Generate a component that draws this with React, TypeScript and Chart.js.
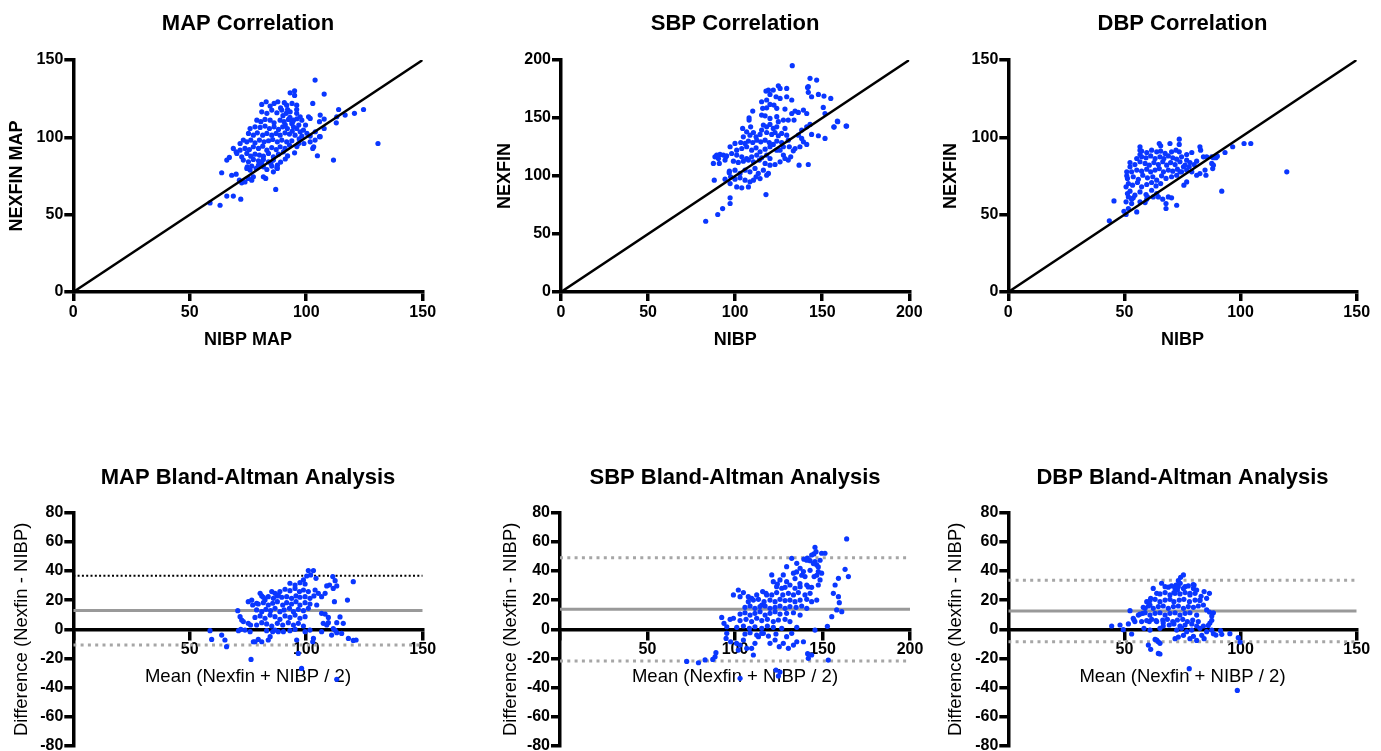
import React, { useEffect, useRef } from 'react';
import { Chart, registerables } from 'chart.js';

Chart.register(...registerables);

const FONT = "'Liberation Sans', Arial, Helvetica, sans-serif";
const BLUE = 'rgb(10,55,255)';

type P = [number, number];

// ---------- Correlation data (x = NIBP, y = NEXFIN) ----------
const mapCorrPoints: P[] = [
  [103.8,137],[107.7,128],[93.1,128.8],[95,130.1],[95,127.1],[102.8,121.9],
  [80.9,121.3],[82.8,123],[84.5,120.2],[86.2,121.9],[87.8,123],[90.6,122.4],[91.6,120.8],[93.9,121.9],[95.9,120.8],[95.9,118],
  [113.9,118],[120.7,115.5],[124.6,118],[116.7,114.4],[113.1,113.3],[106,114.4],[107.7,111.8],[105.7,110.1],[112.9,109.4],
  [101,113.3],[101.7,112.2],[98.1,111.1],[99.7,107.9],[96.8,107.9],[94.5,111.1],[93.8,109],[95.9,105.7],[97.4,103.6],[98.8,104.7],
  [130.8,96],[111.7,85.3],[104.8,88.1],[102.8,92.8],[103.8,98.2],[106,100.4],[107.7,105.7],[101.7,100.8],[101.7,97.1],
  [86.9,66.3],[71.9,60],[68.7,62],[65.9,62],[63,56.1],[58.7,57.6],[63.7,77.1],[68,75.5],[69.9,76.2],[65.9,85.3],[67,87],[68.7,92.8],
  [71.3,72.3],[72.3,70.6],[73.7,71.2],[75.2,73.4],[76.6,72.3],[77.3,74.5],
  [81.6,74.5],[82.6,73.4],[85.9,77.7],[87.6,79.9],[87.6,82],[83.1,79.2],[84.8,83.1],[80.9,83.1],[78.5,79.9],[75.9,78.8],[74.7,80.9],
  [100.3,102.6],[103.9,103.6],[105.7,100.4],[98.1,100.8],[103.2,93.9],
  [80.9,116.5],[83.1,115.5],[85.2,117.6],[87.4,115.9],[89.5,117.6],[91.4,115.5],[93.1,116.5],[95.9,115.5],[97.4,113.3],
  [78.8,111.1],[80.5,110.1],[82.3,111.6],[84.5,111.1],[86.2,109.4],[88.8,111.1],[90.5,110.1],[92.4,111.6],[94.2,110.1],
  [75.9,105.7],[78,106.8],[80.2,106.4],[82.3,107.3],[84.2,105.7],[86.2,106.8],[88.1,105.1],[89.9,106.8],[91.9,105.7],[94.5,106.8],
  [73,98.2],[75.2,102.5],[77.3,101.4],[79,102.9],[81.3,101.4],[83.1,102.5],[85.2,101.4],[87.1,102.5],[88.8,101.4],[90.9,102.9],[92.8,102.1],[95.2,101.4],
  [71.6,96],[74.5,97.1],[76.2,98.2],[78,96.5],[79.9,98.2],[81.9,97.1],[83.8,97.8],[85.6,98.6],[87.6,97.1],[89.5,98.2],[91.6,97.1],[93.8,97.8],[96.7,96],
  [69.9,90.6],[71.6,91.7],[73.7,92.8],[75.6,92.1],[77.3,93.9],[79.5,92.8],[81.3,94.3],[83.1,91.7],[85.2,93.4],[87.1,92.1],[88.8,93.9],[90.9,92.8],[92.8,95],
  [70.2,89.6],[72.3,87.4],[74.5,89.6],[76.2,87.8],[78,89.1],[79.9,88.5],[81.6,87.8],[83.8,89.6],[85.9,87.4],[88.1,89.1],[90.2,90.6],
  [73,85.3],[75.2,84.2],[77.3,85.7],[79.5,84.8],[81.6,85.7],[83.8,84.2],[85.9,85.3],
  [74.5,79.9],[76.6,81.4],[79.5,82],[81.6,80.9],[85.2,81.4],[87.4,80.5],
  [89,119],[92,118],[90,114],[93,113],[96,112],[91,108],[94,104],[97,99],[96,94],[99,96],[95,90],[92,88],[89,84],[91,86],
];

const sbpCorrPoints: P[] = [
  [132.8,195.1],[143,184.2],[146.8,182.7],[142,177],[142,172.1],[143.9,168.3],[147.8,170.3],[151,168.9],[154.9,166.9],[150.6,159.1],
  [151.6,153.9],[158.7,147.3],[156.8,142.2],[163.7,143],[151.6,132.4],[147.8,134.7],[143.9,135.8],[142,109.9],[136.7,109.3],
  [130.5,113.7],[131.9,116.5],[127.7,118],[125.8,122.3],[139.2,129.5],[141.1,127.2],[138.2,132.4],[136.3,135.2],[138.2,139.6],[141.1,142.4],[143,144.5],
  [124.8,177.8],[125.8,175.5],[121.9,174.1],[119.1,174.1],[117.7,173.2],[120,170.3],[123.5,168.3],[125.8,166.9],[129.6,175.5],[129.6,168.3],[132.5,165.5],
  [115.2,164],[118.1,165.5],[120,161.7],[122.3,161.1],[115.8,158.3],[118.1,158.8],[123.9,158.3],[128.6,157.7],[110.1,156],
  [108,150.2],[108,148.2],[108.9,142.4],[104.3,141],
  [115.2,152.5],[117.2,151.9],[120,149.6],[123.9,151.1],[124.8,146.8],[127.7,148.2],[130.5,148.2],[132.5,153.9],[134.4,156],[136.3,154.8],[139.2,156.8],[141.1,153.9],[133.8,148.2],
  [116.2,143.9],[118.1,142.4],[120,144.5],[121.9,141],[123.9,142.4],[115.2,139.6],[118.1,137.5],[121,135.8],[122.9,137.5],[124.8,134.7],[126.7,136.7],[129.6,135.2],[130.5,130.9],[128.6,141],
  [106.6,138.1],[108.5,135.2],[110.5,137.5],[112,133.8],[114.3,135.8],[104.7,133.8],[103.2,128.9],[105.7,128.1],[107.6,130.1],[110.1,128.9],[112.4,130.9],[114.7,129.5],[117.2,130.9],[119.6,128.9],[121.9,127.2],[123.9,130.1],[126.7,128.9],
  [99.9,128.1],[97.1,125.2],[100.9,122.3],[103.8,123.7],[106.6,125.2],[109.5,122.3],[112,124.3],[114.3,120.9],[117.2,123.1],[120,125.2],[123.9,122.3],[127.7,125.2],
  [91.3,118.6],[88.4,116.5],[90.4,115.1],[93.2,118],[95.1,117.4],[98,119.4],[100.9,118],[103.8,116.5],[106.6,115.1],[109.5,116.5],[112.4,118],[115.2,115.7],[118.1,118],[120,115.1],
  [87.5,110.8],[90.9,110.8],[94.2,113.7],[99,112.8],[101.8,111.7],[104.7,112.8],[107.6,113.7],[110.5,112.2],[113.9,113.7],[117.2,110.8],[120,109.3],[122.9,109.9],[125.8,112.2],
  [96.7,104.2],[99.9,105],[102.8,102.2],[105.7,105],[108.5,103.6],[111.4,106.5],[113.3,102.2],[116.2,105],[119.1,102.2],
  [88,96.4],[94.2,97.3],[97.1,93.5],[99.9,97.3],[102.8,98.4],[105.7,96.4],[108.5,95],[112,99.3],
  [100.9,90.6],[103.8,89.8],[107.6,90.6],[110.5,96.4],[114.3,97.8],[118.1,100.7],
  [117.7,84],[97.1,81.2],[97.1,76.3],[92.8,71.9],[90,66.8],[83.1,61],
  [164,143],[158.9,146.8],[156.7,142.4],[141.6,176.4],[89.4,118],[94.7,116.5],[96.6,102.7],[97.4,99.3],
  [137.2,125.2],[133.4,121.7],[131.1,125.2],[134.4,123.7],[128.6,115.1],
];

const dbpCorrPoints: P[] = [
  [73.6,98.8],[73.6,95.4],[69.6,96],[65,96],[65.6,94.5],[56.7,93.9],[56.7,91.7],[56.7,88.9],
  [73.6,90.6],[76.8,88.9],[79,90.2],[82.5,93.9],[82.8,91.7],[81.1,84.6],[84,87.4],[85.4,87.4],
  [87.6,87.4],[89.4,86.8],[93.3,90.2],[96.6,93.9],[101.5,96],[104.4,96],[91.9,65.2],
  [84.7,78.8],[82.5,76.6],[85.1,75.5],[88,79.8],[87.6,83.1],[88.3,82],
  [81.1,75.5],[79,77.7],[77.9,80.9],[75.4,80.9],[73.9,77.7],[75.6,69.1],[76.8,71.2],
  [72.5,56.1],[70.3,60.9],[68.9,61.5],[67.9,57.2],[67.9,54],[66.5,60],[64.6,61.5],
  [43.5,46],[45.5,58.9],[50.7,50.1],[51.7,54],[49.8,52.2],
  [53.1,57.2],[50.7,58.3],[51.7,61.5],[53.8,60.9],[55.3,51.8],[58.9,57.8],[59.6,60],
  [50.7,68],[51.7,70.1],[51.3,73.4],[51,77.7],[51,75.1],[52.4,80.9],
  [57.4,91.1],[59.6,90.2],[61.7,91.7],[63.9,90.6],[65.6,91.1],[67.5,89.6],[70.3,90.6],[72.2,91.7],
  [55.3,86.3],[57.4,87.4],[59.3,86.8],[61.3,88],[63.2,86.3],[65.3,87.4],[67,86.3],[68.9,88],[70.8,86.8],[72.5,85.9],[74.6,87.4],[76.8,85.2],
  [52.4,83.7],[54.5,82.4],[56.7,84.2],[58.9,83.1],[60.7,82],[62.7,83.7],[64.6,82.4],[66.5,84.2],[68.2,82],[69.9,83.7],[71.8,82.4],[73.9,84.2],[76.1,82],[78.2,83.7],[80,82.4],
  [53.1,77.7],[55.3,78.8],[57.4,78.1],[59.6,79.4],[61.3,77.7],[63.2,78.8],[65,79.8],[66.8,77.7],[68.9,78.8],[70.8,78.1],[72.8,79.4],[74.6,77.7],[76.8,78.8],
  [53.8,74.5],[56,72.9],[57.9,75.5],[59.9,73.8],[62.2,74.5],[63.9,72.3],[66,75.1],[67.9,73.4],[70.3,74.5],[72.5,75.5],
  [53.5,69.1],[55.6,70.8],[57.4,68],[59.6,69.5],[61.7,70.8],[63.6,68.6],[65.6,70.1],
  [51.3,63.7],[52.4,65.2],[54.5,62.6],[56.7,64.7],[59.3,63],[61.7,65.8],[63.9,63.7],
  [53.1,60],[56.7,58.3],[59.9,61.5],[62.4,61.5],
  [119.9,77.7],[90,87.8],[88.3,86.8],
];

// ---------- Bland-Altman data (x = mean, y = difference) ----------
const mapBAPoints: P[] = [
  [100.9,40.3],[103.1,40.3],[101.9,37.3],[104.2,35],[100.2,36.6],[98.8,33.9],
  [111.4,36.2],[112.4,33.4],[110,30.4],[108.8,29.8],[111.6,28.1],[113.1,29.8],
  [120.2,32.7],[117.7,20.1],[112.1,19],
  [108.1,24.7],[106.6,22.4],[105.2,24.7],[103.8,27],[104.5,16.7],[106.6,11],[108.1,10.5],[109.5,8.2],[107.3,4.1],
  [109.5,4.6],[108.8,3],[113.1,4.6],[115.9,4.1],[112.4,-0.7],[113.1,-2.3],[115.2,-2.8],[118.1,-6.2],[121.4,-7.3],[110.9,-3.9],[106.6,-1.6],
  [103.1,-6.2],[102.8,-8.5],[101.6,-0.5],[99.5,-1.6],[95.9,-7.3],[96.6,-16.5],[98,-26.8],[113.1,-34.3],
  [76.3,-20.6],
  [58.7,-0.9],[59.4,-6.9],[63.7,-3.9],[65.1,-7.3],[65.8,-11.9],
  [70.9,-0.9],[71.9,0],[73.7,-0.5],[75.9,-1.6],[77.3,-8.5],[78,-8.5],[79.4,-6.9],[80.9,-8.5],[83.7,-7.3],[84.5,-5],[85.6,-1.6],[88,-1.6],
  [70.6,12.8],[71.6,8.7],[72.3,6.4],[73,5.3],[75.1,4.1],[76.1,3],[75.1,19],[76.6,20.1],[77,16.7],[78.7,17.9],[80.2,24.7],[80.9,22.9],[82.3,20.1],[85.2,25.9],[86.6,24.7],[88,23.6],
  [93,31.6],[95.2,30.4],[97.3,32],[99.5,31.1],
  [88.7,25.9],[90.9,27.5],[93,26.5],[95.2,28.1],[97.1,25.9],[98.8,27],[100.9,25.9],
  [81.6,22],[83.7,22.4],[85.9,21.3],[87.6,22.9],[89.5,22],[91.6,22.4],[93.7,21.3],[95.6,22.9],[97.3,22],[99.5,22.4],[101.6,21.3],[103.3,22.9],
  [79.4,17.4],[81.6,18.3],[83.7,16.7],[85.6,17.9],[87.6,19],[89.9,16.7],[91.6,18.3],[93.7,17.4],[95.6,19],[97.3,16.7],[99.5,18.3],[101.6,17.4],
  [78.7,13.3],[80.9,12.1],[82.7,13.7],[84.7,12.8],[86.6,14.4],[88.7,12.1],[90.5,13.3],[92.8,14.4],[94.5,12.1],[96.6,13.7],[98.8,12.8],[100.9,14.4],
  [78,8.2],[80.2,9.2],[82.3,7.6],[84.5,9.8],[86.6,8.7],[88.7,6.9],[90.9,9.2],[93,8.2],[95.2,9.8],[97.3,7.6],[99.5,8.7],
  [78.7,3],[80.9,4.6],[83,3.7],[85.2,2.3],[87.6,4.1],[89.9,3],[92.3,4.6],[94.5,3],[96.6,4.1],[98.8,2.3],
  [83,-0.9],[86.6,-0.5],[90.2,-1.6],[93,-0.9],[95.2,0],
  [120.2,-7.6],[114.5,8.5],[111.6,0.5],
];

const sbpBAPoints: P[] = [
  [163.8,62],
  [145.7,56.3],[146.3,53.3],[145.1,51.7],[149.5,52.2],[151.4,52.2],[143.8,51],[141.3,48.8],[139.4,48.1],[142.9,47.1],[145.7,46.5],[146.7,44.2],
  [162.9,41.2],[164.8,36.2],[159.1,35],[157.2,30.4],[156.2,24.7],[159.1,22.4],[159.6,18.3],[161,12.1],
  [147.6,39.6],[149.5,38.5],[148.6,33.9],[147.6,30.4],[145.2,36.2],
  [132.4,48.7],[135.3,45.3],[137.2,41.9],[139.1,39.6],[140,36.2],[133.4,38.5],[129.5,43],
  [121,37.3],[121.9,32.7],[124.2,31.1],[125.7,33.9],[127.6,37.3],[129.5,32.7],[131.4,30.4],[126.7,28.2],
  [99.1,23.6],[101.9,27],[102.9,22.4],[104.8,25.2],[107.6,22.4],[109.5,21.3],[112.4,23.6],[115.8,25.9],[118.1,23.6],[115.3,16.7],
  [92.4,8.2],[93.7,4.1],[95.3,1.8],[97.2,6.9],[99.1,7.6],
  [95.3,-2.7],[94.9,-6.2],[97.5,-8.5],[100.9,-9.6],[102.9,-10.8],[101.9,-14.2],[104.8,-7.3],[106.7,-13],[109.5,-13],[111.4,-9.6],[110.5,-17.6],[113.4,-5],[115.3,-2.7],
  [79.1,-22.9],[82.9,-21],[87.3,-20.6],[88.6,-18.8],
  [123.4,-27.9],[124.8,-32],[102.9,-33.6],
  [120,-9.6],[122.9,-7.3],[125.3,-11.9],[127.6,-9.6],[130.5,-13],[133.4,-10.8],[135.3,-8.5],[139.1,-8.5],[141.9,-19.9],[143.8,-17.6],[145.7,-0.5],
  [153.3,-21.1],[155.3,8.7],[158.1,13.3],
  [123.8,29.3],[128.6,28.8],[134.3,28.2],[137.2,29.3],[141,30.4],[143.8,28.8],
  [117.7,24.7],[121,23.6],[123.8,25.2],[127.3,23.6],[130.5,24.7],[133.4,23.6],[136.2,25.2],[140,23.6],[142.9,24.7],
  [107.6,19],[110.5,20.1],[113.4,20.6],[116.6,19],[120,20.1],[122.9,19],[125.7,20.6],[128.6,19.7],[131.4,20.1],[134.3,19],[137.2,20.1],[141,20.6],[143.8,19],[146.7,20.1],
  [105.7,15.1],[108.6,16],[111.4,14.4],[114.3,15.6],[117.2,16],[120,14.4],[122.9,15.1],[125.7,16],[128.6,14.4],[131.4,15.6],[134.9,15.1],[138.1,16],[141,14.4],
  [102.9,10.5],[105.7,11.4],[108.6,9.8],[111.4,11],[114.3,12.1],[117.2,9.8],[120,11],[122.9,12.1],[125.7,10.5],[129.5,11],[133.4,11.4],[137.2,9.8],
  [102.9,6],[106.3,6.9],[109.5,5.3],[112.4,7.6],[115.3,6],[118.5,6.9],[121.9,5.3],[124.8,6.4],[128.6,6.9],[131.4,5.3],
  [101,1.4],[104.8,2.3],[108.2,0.7],[111.4,1.8],[115.3,0.7],[118.5,2.3],[121.9,1.4],[126.7,0.7],[135.3,1.4],
  [105.7,-3.2],[108.6,-2.3],[112.4,-3.9],[116.2,-2.7],[119.1,-4.6],[123.4,-3.2],[129.5,-5],[132.4,-2.7],
  [152.8,2.1],[141.5,-16.7],[125.7,-29.3],[72.4,-22],[89.1,-16],
  [141,47.4],[144.8,45.1],[147.6,42.8],[142.9,40.5],[146.7,37.1],[138.1,37.1],[135.2,39.4],[134.3,34.8],[137.1,31.4],[141.9,29.1],[148.6,47.4],
];

const dbpBAPoints: P[] = [
  [75.4,37.3],[74.2,35.7],[73.2,33.4],[72.2,30.4],[71.8,28.1],[74,31.6],[76.1,29.3],[71.3,25.2],[72.8,27],
  [80,30.4],[79.7,28.1],[78.2,24.7],[81.1,27],[84.3,25.9],[86.6,24.7],[85.4,21.3],[82.5,20.1],[84,16.7],[85.4,13.3],[88.3,11.4],[87.6,9.2],
  [66,31.6],[67.5,29.3],[62.4,28.1],[63.9,24.7],[61.3,21.3],[59.6,19],[61,16.7],[58.9,14.4],[57.9,11],[56,9.8],[53.8,7.6],[54.5,5.3],[52.4,12.8],
  [44.5,2.3],[48.1,3],[51.7,3.7],[53.1,-3.2],[57.4,5.3],[58.4,0.7],[60.7,5.3],[63.6,6],[61,-0.5],[65.3,0.7],[66.7,4.6],
  [60.3,-10.8],[61.3,-13.7],[63.9,-7.3],[64.6,-8.5],[65.3,-9.6],[63.2,-6.9],[64.6,-16.5],[65.3,-16.9],
  [77.9,-27],[98.6,-41.9],
  [71.8,-6.4],[73.2,-5.3],[75.4,-4.1],[78.2,-6.4],[79.7,-4.8],[81.1,-7.6],[83.3,-4.1],[84.3,-6.4],[85.4,-1.6],[87.6,-0.5],[89.4,-3.9],[91.4,-0.9],
  [72.5,-0.5],[74.6,0.7],[76.8,-1.6],[79,-0.5],[82.5,0.7],[84,2.3],
  [68.9,28.9],[70.3,29.8],[73.2,29.3],[75.4,28.1],[77.5,29.8],
  [65.3,24.3],[67.5,25.2],[69.6,23.6],[71.8,24.7],[73.9,24.3],[76.1,25.2],[78.2,23.6],[80.4,24.7],
  [61,19.7],[63.2,20.6],[65.3,19],[67.5,20.1],[69.6,20.6],[71.3,19],[73.6,20.1],[75.6,20.6],[78,19],[80.4,20.1],[82.5,19.7],
  [58.1,15.1],[60.3,16],[62.4,14.4],[64.6,15.6],[66.7,16],[68.9,14.4],[71.1,15.6],[73.2,16],[75.4,14.4],[77.5,15.6],[79.7,15.1],[81.8,16],
  [56.7,10.5],[58.9,11.4],[61,9.8],[63.2,11],[65.3,11.4],[67.5,9.8],[69.6,11],[71.8,11.4],[73.9,9.8],[76.1,11],[78.2,11.4],[81.1,9.8],
  [59.6,6],[61.7,6.9],[63.9,5.3],[66.5,6.4],[68.5,6.9],[70.8,5.3],[72.8,6.4],[75.1,6.9],[77.1,5.3],[79.4,6.4],[81.8,5.3],
  [66.7,2.3],[69.3,3],[71.3,3.7],[73.9,2.3],[76.1,3],[79,3.7],[81.1,2.3],
  [86.8,4.3],[86.1,2.7],[88.3,-3],[91.9,-3.4],[95.4,-3],[99,-5.7],[99.8,-8.7],[83,22.7],[79.6,30.7],[86.6,11.9],[87.6,6.2],[49.5,-0.2],[54.1,6.6],
];

// Bias and limits of agreement: [mean, upper, lower]
const mapBAStats = [13.0, 36.8, -10.8];
const sbpBAStats = [13.7, 49.1, -21.7];
const dbpBAStats = [12.6, 33.6, -8.5];

// Axis ranges
const mapCorrRange = [0, 150];
const sbpCorrRange = [0, 200];
const dbpCorrRange = [0, 150];
const baYRange = [-80, 80];
const corrTickStep = 50;
const baYTickStep = 20;

const tickFont = { family: FONT, size: 16, weight: 'bold' as const };

function axisBase() {
  return {
    type: 'linear' as const,
    grid: {
      display: true,
      drawOnChartArea: false,
      drawTicks: true,
      tickLength: 9,
      lineWidth: 3.5,
      color: '#000',
    },
    border: { display: true, width: 3.5, color: '#000' },
  };
}

function corrConfig(spec: any) {
  const [lo, hi] = spec.range;
  return {
    type: 'scatter',
    data: {
      datasets: [
        {
          type: 'line',
          data: [{ x: lo, y: lo }, { x: hi, y: hi }],
          borderColor: '#000',
          borderWidth: 2.5,
          pointRadius: 0,
          showLine: true,
          fill: false,
          order: 0,
        },
        {
          type: 'scatter',
          data: spec.points.map(([x, y]: P) => ({ x, y })),
          pointBackgroundColor: BLUE,
          pointBorderColor: BLUE,
          pointBorderWidth: 0,
          pointRadius: 2.6,
          order: 1,
        },
      ],
    },
    options: {
      responsive: false,
      animation: false,
      events: [],
      layout: { padding: { left: 0, top: 0, right: spec.padRight, bottom: 0 } },
      plugins: {
        legend: { display: false },
        tooltip: { enabled: false },
        title: {
          display: true,
          text: spec.title,
          fullSize: false,
          color: '#000',
          font: { family: FONT, size: 22, weight: 'bold' },
          padding: { top: 10.8, bottom: 22.8 },
        },
      },
      scales: {
        x: {
          ...axisBase(),
          min: lo,
          max: hi,
          ticks: { stepSize: corrTickStep, font: tickFont, color: '#000', padding: 2, maxRotation: 0, autoSkip: false },
          title: {
            display: true,
            text: spec.xTitle,
            color: '#000',
            font: { family: FONT, size: 18, weight: 'bold' },
            padding: { top: 0, bottom: 9.2 },
          },
          afterFit: (s: any) => { s.height = 68; },
        },
        y: {
          ...axisBase(),
          min: lo,
          max: hi,
          ticks: { stepSize: corrTickStep, font: tickFont, color: '#000', padding: 1, autoSkip: false },
          title: {
            display: true,
            text: spec.yTitle,
            color: '#000',
            font: { family: FONT, size: 18, weight: 'bold' },
            padding: { top: spec.yTitlePad, bottom: 0 },
          },
          afterFit: (s: any) => { s.width = spec.yWidth; },
        },
      },
    },
  };
}

function baConfig(spec: any) {
  const [lo, hi] = spec.range;
  const [mean, upper, lower] = spec.stats;
  const hline = (v: number) => [{ x: lo, y: v }, { x: hi, y: v }];
  return {
    type: 'scatter',
    data: {
      datasets: [
        {
          type: 'line', data: hline(mean), borderColor: '#999999', borderWidth: 3,
          pointRadius: 0, showLine: true, fill: false, order: 3,
        },
        {
          type: 'line', data: hline(upper),
          borderColor: spec.upperBlack ? '#000' : '#a6a6a6',
          borderWidth: spec.upperBlack ? 2 : 3,
          borderDash: spec.upperBlack ? [2, 2.3] : [3, 4.3],
          pointRadius: 0, showLine: true, fill: false, order: 3,
        },
        {
          type: 'line', data: hline(lower), borderColor: '#a6a6a6', borderWidth: 3,
          borderDash: [3, 4.3], pointRadius: 0, showLine: true, fill: false, order: 3,
        },
        {
          type: 'scatter',
          data: spec.points.map(([x, y]: P) => ({ x, y })),
          pointBackgroundColor: BLUE,
          pointBorderColor: BLUE,
          pointBorderWidth: 0,
          pointRadius: 2.6,
          order: 1,
        },
      ],
    },
    options: {
      responsive: false,
      animation: false,
      events: [],
      layout: { padding: { left: 0, top: 0, right: spec.padRight, bottom: 20 } },
      plugins: {
        legend: { display: false },
        tooltip: { enabled: false },
        title: {
          display: true,
          text: spec.title,
          fullSize: false,
          color: '#000',
          font: { family: FONT, size: 22, weight: 'bold' },
          padding: { top: 25.1, bottom: 21.2 },
        },
      },
      scales: {
        x: {
          ...axisBase(),
          position: { y: 0 },
          min: lo,
          max: hi,
          ticks: {
            stepSize: corrTickStep, font: tickFont, color: '#000', padding: 2, maxRotation: 0, autoSkip: false,
            callback: (v: any) => (v === 0 ? '' : String(v)),
          },
          title: {
            display: true,
            text: 'Mean (Nexfin + NIBP / 2)',
            color: '#000',
            font: { family: FONT, size: 18.5, weight: 'normal' },
            padding: { top: 0, bottom: 1.5 },
          },
          afterFit: (s: any) => { s.height = 60; },
        },
        y: {
          ...axisBase(),
          min: baYRange[0],
          max: baYRange[1],
          ticks: { stepSize: baYTickStep, font: tickFont, color: '#000', padding: 1, autoSkip: false },
          title: {
            display: true,
            text: 'Difference (Nexfin - NIBP)',
            color: '#000',
            font: { family: FONT, size: 18.5, weight: 'normal' },
            padding: { top: spec.yTitlePad, bottom: 0 },
          },
          afterFit: (s: any) => { s.width = spec.yWidth; },
        },
      },
    },
  };
}

const panels = [
  { kind: 'corr', left: 0, top: 0, width: 460, height: 360, yWidth: 73.3, padRight: 37.3, yTitlePad: 6.2,
    title: 'MAP Correlation', xTitle: 'NIBP MAP', yTitle: 'NEXFIN MAP', range: mapCorrRange, points: mapCorrPoints },
  { kind: 'corr', left: 460, top: 0, width: 500, height: 360, yWidth: 101, padRight: 50.7, yTitlePad: 34,
    title: 'SBP Correlation', xTitle: 'NIBP', yTitle: 'NEXFIN', range: sbpCorrRange, points: sbpCorrPoints },
  { kind: 'corr', left: 920, top: 0, width: 461, height: 360, yWidth: 88.3, padRight: 24.3, yTitlePad: 20.7,
    title: 'DBP Correlation', xTitle: 'NIBP', yTitle: 'NEXFIN', range: dbpCorrRange, points: dbpCorrPoints },
  { kind: 'ba', left: 0, top: 440, width: 460, height: 326, yWidth: 73.3, padRight: 37.3, yTitlePad: 10.6,
    title: 'MAP Bland-Altman Analysis', range: mapCorrRange, points: mapBAPoints, stats: mapBAStats, upperBlack: true },
  { kind: 'ba', left: 460, top: 440, width: 500, height: 326, yWidth: 100, padRight: 50, yTitlePad: 40.2,
    title: 'SBP Bland-Altman Analysis', range: sbpCorrRange, points: sbpBAPoints, stats: sbpBAStats, upperBlack: false },
  { kind: 'ba', left: 920, top: 440, width: 461, height: 326, yWidth: 88.3, padRight: 24.3, yTitlePad: 25.2,
    title: 'DBP Bland-Altman Analysis', range: dbpCorrRange, points: dbpBAPoints, stats: dbpBAStats, upperBlack: false },
];

function Panel({ spec }: { spec: any }) {
  const ref = useRef<HTMLCanvasElement | null>(null);
  useEffect(() => {
    if (!ref.current) return;
    const cfg: any = spec.kind === 'corr' ? corrConfig(spec) : baConfig(spec);
    const chart = new Chart(ref.current, cfg);
    return () => chart.destroy();
  }, [spec]);
  return (
    <canvas
      ref={ref}
      width={spec.width}
      height={spec.height}
      style={{ position: 'absolute', left: spec.left, top: spec.top, width: spec.width, height: spec.height }}
    />
  );
}

export default function App() {
  return (
    <div
      style={{
        position: 'absolute', left: 0, top: 0, width: 1381, height: 751,
        overflow: 'hidden', background: '#fff',
      }}
    >
      {panels.map((p, i) => (
        <Panel key={i} spec={p} />
      ))}
    </div>
  );
}
